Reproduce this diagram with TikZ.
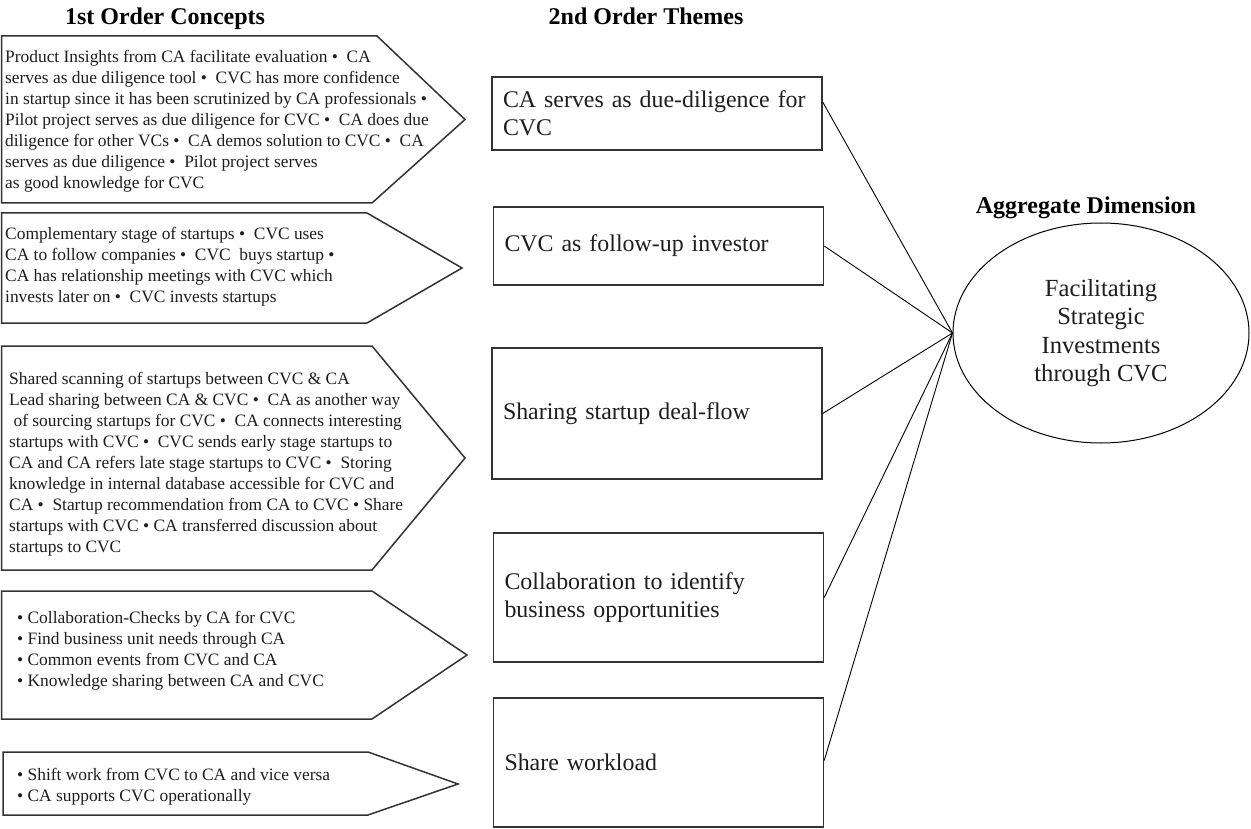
\documentclass[tikz,border=0pt]{standalone}
\usepackage{fontspec}
\setmainfont{Liberation Serif}
\usetikzlibrary{shapes.geometric}

\definecolor{ink}{HTML}{1E1E1E}
\definecolor{edge}{HTML}{333333}

\tikzset{
  heading/.style={font=\fontsize{24}{28}\selectfont\bfseries, text=black, inner sep=0pt},
  concept/.style={font=\fontsize{17.4}{21}\selectfont, text=ink, align=left, inner sep=0pt, anchor=north west},
  arrowbox/.style={draw=edge, line width=1.5pt, fill=white, line join=miter},
  theme/.style={draw=edge, line width=1.4pt, rectangle, text width=308pt, inner xsep=11pt,
    align=left, font=\fontsize{23.9}{28}\selectfont, text=ink, minimum width=330pt},
  dimension/.style={draw=black, line width=1pt, ellipse, minimum width=296pt, minimum height=220pt,
    inner sep=0pt, align=center, font=\fontsize{24.6}{28.5}\selectfont, text=ink},
  link/.style={draw=black, line width=0.9pt},
}
\newcommand{\bul}{\ •\ \ }

\begin{document}
\begin{tikzpicture}[x=1pt,y=-1pt]
\useasboundingbox (0,0) rectangle (1251,829);

% column headings
\node[heading] (h1) at (165,19) {1st Order Concepts};
\node[heading] (h2) at (646,16) {2nd Order Themes};
\node[heading] (h3) at (1086,208) {Aggregate Dimension};

% first-order concept arrows
\draw[arrowbox] (1.5,36) -- (377,36) -- (465,119.5) -- (372,203) -- (1.5,203) -- cycle;
\draw[arrowbox] (1.5,213) -- (367,213) -- (462,268) -- (367,323) -- (1.5,323) -- cycle;
\draw[arrowbox] (1.5,346) -- (372,346) -- (465,458) -- (372,570) -- (1.5,570) -- cycle;
\draw[arrowbox] (1.5,591) -- (372,591) -- (467,655) -- (372,719) -- (1.5,719) -- cycle;
\draw[arrowbox] (3,752) -- (368,752) -- (458,784) -- (368,815) -- (3,815) -- cycle;

\node[concept] (c1) at (5,50) {Product Insights from CA facilitate evaluation\bul CA\\
serves as due diligence tool\bul CVC has more confidence\\
in startup since it has been scrutinized by CA professionals •\\
Pilot project serves as due diligence for CVC\bul CA does due\\
diligence for other VCs\bul CA demos solution to CVC\bul CA\\
serves as due diligence\bul Pilot project serves\\
as good knowledge for CVC};

\node[concept] (c2) at (5,227) {Complementary stage of startups\bul CVC uses\\
CA to follow companies\bul CVC\ \ buys startup •\\
CA has relationship meetings with CVC which\\
invests later on\bul CVC invests startups};

\node[concept] (c3) at (9,372) {Shared scanning of startups between CVC \& CA\\
Lead sharing between CA \& CVC\bul CA as another way\\
\ of sourcing startups for CVC\bul CA connects interesting\\
startups with CVC\bul CVC sends early stage startups to\\
CA and CA refers late stage startups to CVC\bul Storing\\
knowledge in internal database accessible for CVC and\\
CA\bul Startup recommendation from CA to CVC • Share\\
startups with CVC • CA transferred discussion about\\
startups to CVC};

\node[concept] (c4) at (17,611) {• Collaboration-Checks by CA for CVC\\
• Find business unit needs through CA\\
• Common events from CVC and CA\\
• Knowledge sharing between CA and CVC};

\node[concept] (c5) at (17,768) {• Shift work from CVC to CA and vice versa\\
• CA supports CVC operationally};

% second-order themes
\node[theme, minimum height=73pt]  (t1) at (657,113.5) {CA serves as due-diligence for\\CVC};
\node[theme, minimum height=78pt]  (t2) at (658.5,246) {CVC as follow-up investor};
\node[theme, minimum height=131pt] (t3) at (657,413.5) {Sharing startup deal-flow};
\node[theme, minimum height=129pt] (t4) at (658.5,597.5) {Collaboration to identify\\business opportunities};
\node[theme, minimum height=129pt] (t5) at (658.5,762.5) {Share workload};

% aggregate dimension
\node[dimension] (agg) at (1101,333) {Facilitating\\Strategic\\Investments\\through CVC};

% theme-to-dimension links
\draw[link] ([yshift=11.5pt]t1.east) -- (agg.west);
\draw[link] (t2.east) -- (agg.west);
\draw[link] (t3.east) -- (agg.west);
\draw[link] (t4.east) -- (agg.west);
\draw[link] ([yshift=2pt]t5.east) -- (agg.west);
\end{tikzpicture}
\end{document}
